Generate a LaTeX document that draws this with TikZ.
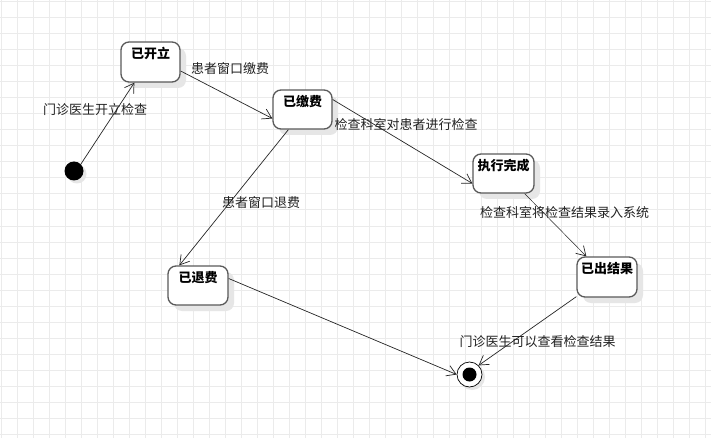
\documentclass[tikz,border=0pt]{standalone}
\usepackage{fontspec}
\setmainfont{Noto Sans CJK SC}
\usetikzlibrary{arrows.meta,calc}
\definecolor{gridc}{HTML}{EBEBEB}
\definecolor{boxc}{HTML}{5A5A5A}
\definecolor{shadc}{HTML}{E6E6E6}
\definecolor{txtc}{HTML}{222222}
\begin{document}
\begin{tikzpicture}[x=1pt,y=-1pt,
  statebox/.style={draw=boxc, line width=1.3pt, fill=white, rounded corners=8pt,
     minimum width=59pt, minimum height=39pt, inner sep=0pt},
  shadowbox/.style={fill=shadc, rounded corners=8pt, draw=none},
  lbl/.style={font=\fontsize{13pt}{13pt}\selectfont, text=txtc, inner sep=0pt},
  ttl/.style={font=\bfseries\fontsize{13pt}{13pt}\selectfont, text=black, inner sep=0pt},
  conn/.style={draw=black!85, line width=0.7pt, -{Straight Barb[length=9pt,width=11pt,line width=0.7pt]}}
]
\useasboundingbox (0,0) rectangle (711,438);
\fill[white] (0,0) rectangle (711,438);
\foreach \gx in {1,17,...,711} \draw[gridc, line width=1pt] (\gx,0) -- (\gx,438);
\foreach \gy in {2,18,...,438} \draw[gridc, line width=1pt] (0,\gy) -- (711,\gy);

% shadows
\foreach \a/\b/\c/\d in {121/42/180/82, 273/90/332/129, 473/154/534/193, 577/257/637/297, 168/266/228/305}
  \fill[shadc, rounded corners=8pt] (\a+6,\b+6) rectangle (\c+6,\d+6);
\fill[shadc] (77,174) circle (9.5pt);
\fill[shadc] (472,377) circle (13pt);

% states
\node[statebox, minimum width=59pt, minimum height=40pt] (kl) at (150.5,62) {};
\node[statebox, minimum width=59pt, minimum height=39pt] (jf) at (302.5,109.5) {};
\node[statebox, minimum width=61pt, minimum height=39pt] (wc) at (503.5,173.5) {};
\node[statebox, minimum width=60pt, minimum height=40pt] (cj) at (607,277) {};
\node[statebox, minimum width=60pt, minimum height=39pt] (tf) at (198,285.5) {};

\node[ttl] (klt) at ($(kl.north)+(0,12)$) {已开立};
\node[ttl] (jft) at ($(jf.north)+(0,12)$) {已缴费};
\node[ttl] (wct) at ($(wc.north)+(0,12)$) {执行完成};
\node[ttl] (cjt) at ($(cj.north)+(0,12)$) {已出结果};
\node[ttl] (tft) at ($(tf.north)+(0,12)$) {已退费};

% initial and final
\node[circle, fill=black, minimum size=19pt, inner sep=0pt] (init) at (74,171) {};
\node[circle, draw=black, line width=0.7pt, fill=white, minimum size=25pt, inner sep=0pt] (fin) at (469.5,374.5) {};
\node[circle, fill=black, minimum size=14pt, inner sep=0pt] (fini) at (fin.center) {};

% connectors
\draw[conn] (init.north east) -- ([xshift=14pt]kl.south west);
\draw[conn] ([yshift=-9pt]kl.east) -- ([yshift=-9pt]jf.west);
\draw[conn] ([yshift=10pt]jf.east) -- ([yshift=-10pt]wc.west);
\draw[conn] ([xshift=16pt]jf.south west) -- ([xshift=12pt]tf.north west);
\draw[conn, line width=0.5pt] ([xshift=-10pt]wc.south east) -- ([xshift=10pt]cj.north west);
\draw[conn] ([yshift=1pt]cj.south west) -- (fin.north east);
\draw[conn] ([yshift=7pt]tf.east) -- (fin.west);

% labels
\node[lbl] (l1) at (95,110) {门诊医生开立检查};
\node[lbl] (l2) at (230,69) {患者窗口缴费};
\node[lbl] (l3) at (406,124.5) {检查科室对患者进行检查};
\node[lbl] (l4) at (261,203) {患者窗口退费};
\node[lbl] (l5) at (564.5,213) {检查科室将检查结果录入系统};
\node[lbl] (l6) at (537.5,341.5) {门诊医生可以查看检查结果};
\end{tikzpicture}
\end{document}
